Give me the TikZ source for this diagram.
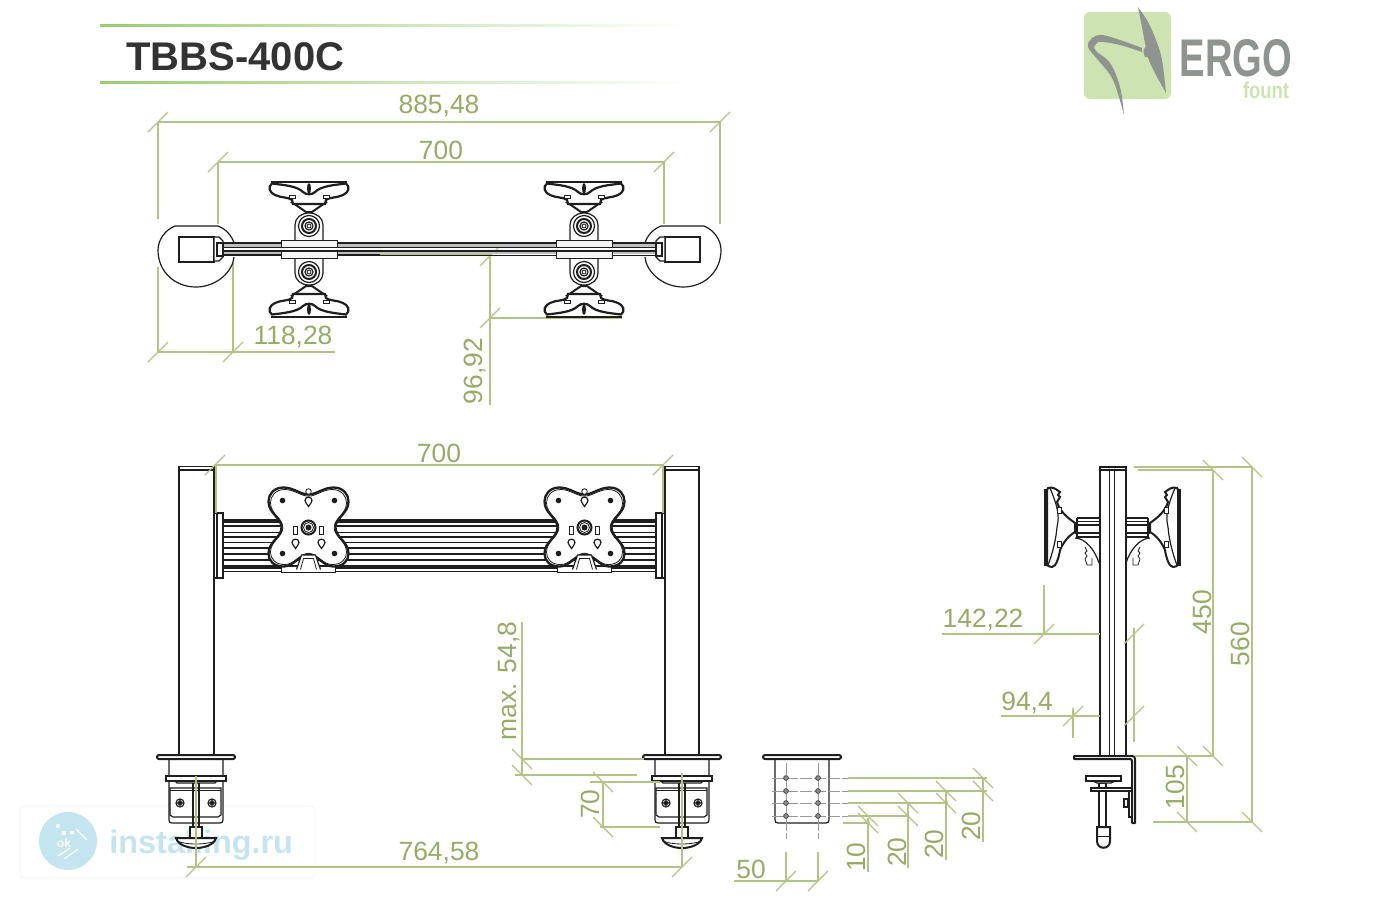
\documentclass[tikz,border=0pt]{standalone}
\usepackage{fontspec}
\setmainfont{Liberation Sans}
\usetikzlibrary{calc}
\definecolor{dimc}{HTML}{B3C386}
\definecolor{dimt}{HTML}{96AC66}
\definecolor{ink}{HTML}{1E1E1E}
\definecolor{logog}{HTML}{CDE4B2}
\definecolor{logod}{HTML}{8F9490}
\definecolor{wm}{HTML}{C4E4F0}
\tikzset{
 dim/.style={draw=dimc,line width=.6pt},
 dimlab/.style={text=dimt,font=\fontsize{13.2}{14}\selectfont,inner sep=0pt},
 lin/.style={draw=ink,line width=.6pt},
 thin lin/.style={draw=ink,line width=.4pt},
 hvy/.style={draw=ink,line width=1pt},
 tickf/.pic={\draw[dim] (-10,10)--(10,-10);},
 tickb/.pic={\draw[dim] (-10,-10)--(10,10);},
 planmount/.pic={
  \draw[lin,fill=white] (-14,-9)--(-14,-24) .. controls (-14,-31) and (-8,-36) .. (0,-36) .. controls (8,-36) and (14,-31) .. (14,-24)--(14,-9);
  \draw[hvy,fill=white] (-16,-46)--(-3,-37)--(3,-37)--(16,-46)--cycle;
  \draw[draw=ink,line width=1.1pt,fill=white] (-37,-65.5) .. controls (-25,-64) and (-12,-63) .. (-6,-57) .. controls (-3,-54) and (3,-54) .. (6,-57) .. controls (12,-63) and (25,-64) .. (37,-65.5) .. controls (42,-62) and (39,-56) .. (34,-54) .. controls (28,-51) and (20,-52) .. (17,-49) -- (16,-45) -- (-16,-45) -- (-17,-49) .. controls (-20,-52) and (-28,-51) .. (-34,-54) .. controls (-39,-56) and (-42,-62) .. (-37,-65.5) -- cycle;
  \draw[draw=ink,line width=1pt] (-38,-67.5)--(38,-67.5);
  \fill[ink] (0,-60.5) ellipse (2 and 5.5);
  \draw[thin lin,fill=white] (-20,-54) rectangle (-14,-51);
  \draw[thin lin,fill=white] (14,-54) rectangle (20,-51);
  \draw[lin,fill=white] (0,-23) circle (10.5);
  \draw[hvy] (0,-23) circle (7);
  \draw[lin] (0,-23) circle (4);
  \draw[thin lin] (0,-23) circle (2);
 },
 plate/.pic={
  \draw[thin lin,fill=white] (-27,39)--(-27,44.5)--(27,44.5)--(27,39);
  \draw[draw=ink,line width=1.15pt,fill=white] (0,-33) .. controls (-8,-33) and (-15,-40) .. (-25,-40) .. controls (-35,-40) and (-40,-33) .. (-40,-26) .. controls (-40,-14) and (-27,-10) .. (-27,0) .. controls (-27,10) and (-40,14) .. (-40,26) .. controls (-40,33) and (-35,39) .. (-25,39) .. controls (-15,39) and (-10,28) .. (0,27) .. controls (10,28) and (15,39) .. (25,39) .. controls (35,39) and (40,33) .. (40,26) .. controls (40,14) and (27,10) .. (27,0) .. controls (27,-10) and (40,-14) .. (40,-26) .. controls (40,-33) and (35,-40) .. (25,-40) .. controls (15,-40) and (8,-33) .. (0,-33) -- cycle;
  \draw[thin lin,scale=.95] (0,-33) .. controls (-8,-33) and (-15,-40) .. (-25,-40) .. controls (-35,-40) and (-40,-33) .. (-40,-26) .. controls (-40,-14) and (-27,-10) .. (-27,0) .. controls (-27,10) and (-40,14) .. (-40,26) .. controls (-40,33) and (-35,39) .. (-25,39) .. controls (-15,39) and (-10,28) .. (0,27) .. controls (10,28) and (15,39) .. (25,39) .. controls (35,39) and (40,33) .. (40,26) .. controls (40,14) and (27,10) .. (27,0) .. controls (27,-10) and (40,-14) .. (40,-26) .. controls (40,-33) and (35,-40) .. (25,-40) .. controls (15,-40) and (8,-33) .. (0,-33) -- cycle;
  \draw[lin,fill=white] (-12,42)--(-7,27.5)--(7,27.5)--(12,42);
  \draw[thin lin] (-8,42)--(-5,31)--(5,31)--(8,42);
  \foreach \a/\b in {-26/-27,26/-27,-26/26,26/26}{\fill[ink] (\a,\b) circle (2.8);}
  \draw[thin lin,fill=white] (0,-36) circle (2.8);
  \foreach \a/\b in {0/-27,-13/15,13/15}{
   \draw[lin,fill=white] (\a-3.5,\b) .. controls (\a-3.5,\b-4.5) and (\a+3.5,\b-4.5) .. (\a+3.5,\b) .. controls (\a+3.5,\b+2) and (\a+1.5,\b+3) .. (\a,\b+6) .. controls (\a-1.5,\b+3) and (\a-3.5,\b+2) .. (\a-3.5,\b) -- cycle;}
  \draw[lin,fill=white] (-15,-1) rectangle (-11,7);
  \draw[lin,fill=white] (11,-1) rectangle (15,7);
  \draw[hvy,fill=white] (0,0) circle (7);
  \draw[thin lin] (0,0) circle (5);
  \fill[ink] (0,0) circle (3);
 },
 clampfront/.pic={
  \draw[lin,fill=white] (-27,759)--(-27,820) .. controls (-27,822) and (-26,823) .. (-24,823)--(24,823) .. controls (26,823) and (27,822) .. (27,820)--(27,759);
  \draw[lin] (-26,788)--(25,788)--(25,815)--(22,817)--(-23,817)--(-26,815)--cycle;
  \draw[thin lin] (-26,790)--(25,790);
  \draw[lin,fill=white] (-30,776) rectangle (30,781);
  \draw[lin] (-21,781)--(-19,783)--(19,783)--(21,781);
  \draw[lin] (-3,783)--(-3,827);
  \draw[lin] (3,783)--(3,827);
  \foreach \a in {-16,16}{\draw[lin] (\a,803) circle (4);\draw[hvy] (\a,803) circle (1.8);}
  \draw[hvy,fill=white] (-6,838)--(-6,827)--(6,827)--(6,838);
  \draw[hvy,fill=white] (-20,838)--(20,838) .. controls (18,845) and (8,848) .. (0,848) .. controls (-8,848) and (-18,845) .. (-20,838)--cycle;
  \draw[thin lin] (-19,841) .. controls (-10,845) and (10,845) .. (19,841);
 },
 topplate/.pic={\draw[hvy,fill=white,rounded corners=1pt] (-39,755) rectangle (39,759);},
 planclamp/.pic={
  \draw[lin] (218,226)--(175,226) .. controls (165,230) and (158,240) .. (158,250) .. controls (158,272) and (175,287) .. (196,287) .. controls (217,287) and (233,271) .. (234,257);
  \draw[lin] (218,226) .. controls (226,229) and (232,236) .. (234,243);
  \draw[lin,fill=white] (179,237) rectangle (214,262);
  \draw[lin,fill=white] (214,237)--(219,237)--(223,241)--(223,257)--(219,261)--(214,261)--cycle;
  \draw[hvy,fill=white] (217,243) rectangle (223,256);
 },
 sidehead/.pic={
  \draw[draw=ink,line width=1.1pt] (1045.5,489)--(1045.5,566);
  \draw[hvy,fill=white] (1048,488) .. controls (1053,486) and (1057,490) .. (1060,492) -- (1058,495) -- (1060,497) -- (1057,502) .. controls (1060,512) and (1068,518) .. (1075,523) -- (1075,532) .. controls (1068,536) and (1063,543) .. (1060,550) .. controls (1059,557) and (1056,567) .. (1052,567) .. controls (1050,567) and (1048,566) .. (1047,565) -- (1047,490) -- cycle;
  \draw[lin] (1050,488) .. controls (1057,505) and (1060,515) .. (1057,527) .. controls (1056,540) and (1052,555) .. (1048,565);
  \draw[thin lin,fill=white] (1057,507) rectangle (1061,513);
  \draw[thin lin,fill=white] (1057,541) rectangle (1061,547);
  \draw[lin] (1077,518)--(1077,537)--(1099,537);
  \draw[lin] (1077,518)--(1099,518);
  \draw[thin lin] (1077,521)--(1099,521);
  \draw[lin] (1077,525)--(1099,525);
  \draw[lin] (1075,533)--(1099,533);
  \draw[lin] (1075,538) .. controls (1085,538) and (1095,550) .. (1099,563);
  \draw[thin lin] (1085,547)--(1087,551)--(1085,553)--(1087,556)--(1085,559)--(1087,565)--(1092,565)--(1092,558);
 },
}
\begin{document}
\begin{tikzpicture}[x=.5pt,y=-.5pt]
\useasboundingbox (0,0) rectangle (1400,900);
\fill[white] (0,0) rectangle (1400,900);
% watermark
\draw[draw=black!5,line width=.4pt,rounded corners=2pt] (20,806) rectangle (315,878);
\fill[wm] (68,841) circle (29);
\begin{scope}[white]
 \fill (58,826) circle (2);\fill (62,831) rectangle (66,835);\fill (70,831) rectangle (74,834);
 \draw[line width=.6pt] (76,829) .. controls (80,833) and (84,837) .. (87,840);
 \draw[line width=.6pt] (58,856)--(70,848);
 \draw[line width=.6pt] (64,859)--(78,849);
 \node[font=\fontsize{6}{6}\selectfont\bfseries,text=white,inner sep=0pt] (wmok) at (64,843) {ok};
\end{scope}
\node[anchor=west,text=wm,font=\fontsize{16.2}{17}\selectfont\bfseries,inner sep=0pt] (wmtext) at (109,845) {installing.ru};
% header
\shade[left color=dimc!85!green,right color=white] (100,24.5) rectangle (690,26.5);
\shade[left color=dimc!85!green,right color=white] (100,81.5) rectangle (690,83.5);
\node[anchor=west,text=black!80,font=\fontsize{20}{21}\selectfont\bfseries,inner sep=0pt] (title) at (126,57) {TBBS-400C};
% logo
\fill[logog,rounded corners=3pt] (1084,12) rectangle (1171,99);
\fill[logod] plot[smooth,tension=.6] coordinates {(1138,7) (1142,27) (1145,43) (1150,63) (1166,93)} -- plot[smooth,tension=.6] coordinates {(1166,93) (1162,60) (1156,40) (1148,22) (1138,7)} -- cycle;
\fill[logod] plot[smooth,tension=.6] coordinates {(1124,115) (1113,80) (1098,60) (1088,47) (1092,38) (1102,35) (1120,40) (1142,48)} -- plot[smooth,tension=.6] coordinates {(1142,52) (1120,45) (1103,42) (1097,43) (1095,50) (1110,63) (1120,87) (1124,115)} -- cycle;
\fill[logod] (1149,45) .. controls (1143,47) and (1142,52) .. (1145,57) -- (1150,57) -- cycle;
\node[text=logod,font=\fontsize{26.5}{27}\selectfont\bfseries,inner sep=0pt] (ergo) at (1236,58) {\scalebox{.72}[1]{ERGO}};
\node[text=logog,font=\fontsize{11.5}{12}\selectfont\bfseries,inner sep=0pt] (fount) at (1266,90) {\scalebox{.8}[1]{fount}};

% ---- plan view
\draw[dim] (158,122)--(158,219) (158,267)--(158,352) (720,122)--(720,224) (218,162)--(218,224) (664,162)--(664,224) (233,263)--(233,352);
\draw[dim] (490,252)--(490,405) (490,318)--(622,318);
\draw[dim] (380,255)--(490,255);
\draw[dim] (158,122)--(720,122) (218,162)--(664,162) (158,352)--(335,352);
\foreach \p in {(158,122),(720,122),(218,162),(664,162),(158,352),(233,352),(490,318),(490,256)}{\path \p pic {tickf};}
\node[dimlab] (d885) at (439,106) {885,48};
\node[dimlab] (d700a) at (441,150) {700};
\node[dimlab] (d118) at (293,337) {118,28};
\node[dimlab,rotate=90] (d96) at (475,371) {96,92};
% bar
\fill[black!25] (223,244) rectangle (656,247);
\fill[black!25] (223,252) rectangle (656,254);
\draw[hvy] (223,243)--(656,243);
\draw[thin lin] (223,247.5)--(656,247.5);
\draw[hvy] (223,251)--(656,251);
\draw[hvy] (223,255)--(380,255);
\draw[thin lin] (380,255)--(656,255);
\foreach \c in {309,584}{
 \begin{scope}[shift={(\c,249)}]
  \path (0,0) pic[transform shape] {planmount};
  \begin{scope}[yscale=-1]\path (0,0) pic[transform shape] {planmount};\end{scope}
 \end{scope}
 \begin{scope}[shift={(\c,0)}]
  \draw[thin lin,fill=black!4] (-28,240) rectangle (28,247);
  \draw[thin lin,fill=black!4] (-28,251) rectangle (28,258);
 \end{scope}
}
\path (0,0) pic[transform shape] {planclamp};
\begin{scope}[xscale=-1,shift={(-879,0)}]\path (0,0) pic[transform shape] {planclamp};\end{scope}

% ---- front view
\foreach \yy in {525.5,566}{\draw[draw=ink,line width=1pt] (223,\yy)--(657,\yy);}
\foreach \yy in {520,522,532.5,537,542.5,548,554,560,568,571.7}{\draw[draw=ink,line width=.55pt] (223,\yy)--(657,\yy);}
\foreach \x/\a in {179/214,665/699}{
 \draw[lin,fill=white] (\x,755)--(\x,466.5)--(\a,466.5)--(\a,755);
 \draw[lin] (\x,470)--(\a,470);
}
\draw[lin,fill=white] (214,513) rectangle (223,578);
\draw[lin] (217,513)--(217,578);
\draw[lin,fill=white] (656,513) rectangle (665,578);
\draw[lin] (662,513)--(662,578);
\path (308.5,527.5) pic {plate};
\path (584.5,527.5) pic {plate};
\draw[dim] (216,465)--(216,513) (663,465)--(663,513) (214,465)--(664,465);
\path (215,465) pic {tickf};
\path (663,465) pic {tickf};
\node[dimlab] (d700b) at (439,453) {700};
% clamps
\path (196,0) pic {clampfront};
\path (196,0) pic {topplate};
\path (682,0) pic {clampfront};
\path (682,0) pic {topplate};
\draw[dim] (196,776)--(196,867) (682,773)--(682,867) (187,867)--(682,867);
\path (196,867) pic {tickf};
\path (682,867) pic {tickf};
\node[dimlab] (d764) at (439,853) {764,58};
\draw[dim] (522,622)--(522,775) (522,759)--(644,759) (515,775)--(637,775);
\path (522,759) pic {tickb};
\path (522,775) pic {tickb};
\node[dimlab,rotate=90] (dmax) at (509,681) {max. 54,8};
\draw[dim] (590,782)--(660,782) (600,827)--(660,827) (603,782)--(603,827);
\path (603,782) pic {tickb};
\path (603,827) pic {tickb};
\node[dimlab,rotate=90] (d70) at (590,804) {70};

% ---- hole bracket
\draw[lin,fill=white] (775,759)--(775,820) .. controls (775,822) and (776,823) .. (778,823)--(826,823) .. controls (828,823) and (829,822) .. (829,820)--(829,759);
\path (802,0) pic {topplate};
\draw[draw=black!40,line width=.5pt,dash pattern=on 6pt off 1pt] (786,763)--(786,839) (818,763)--(818,839);
\foreach \yy in {778,791,803,816}{
 \draw[draw=black!40,line width=.5pt,dash pattern=on 6pt off 1pt] (772,\yy)--(848,\yy);
 \foreach \x in {786,818}{\draw[draw=black!70,line width=.4pt,fill=black!45] (\x,\yy) circle (2.4);}
}
\draw[dim] (848,778)--(987,778) (848,791)--(987,791) (848,803)--(948,803) (848,816)--(908,816) (843,823)--(870,823);
\draw[dim] (868,818)--(868,872) (908,803)--(908,868) (946,791)--(946,860) (983,778)--(983,842);
\path (868,816) pic {tickb};
\path (868,823) pic {tickb};
\path (908,803) pic {tickb};
\path (908,816) pic {tickb};
\path (946,791) pic {tickb};
\path (946,803) pic {tickb};
\path (983,778) pic {tickb};
\path (983,791) pic {tickb};
\node[dimlab,rotate=90] (d10) at (856,857) {10};
\node[dimlab,rotate=90] (d20a) at (897,852) {20};
\node[dimlab,rotate=90] (d20b) at (934,844) {20};
\node[dimlab,rotate=90] (d20c) at (971,826) {20};
\draw[dim] (786,852)--(786,881) (818,852)--(818,881) (734,881)--(818,881);
\path (786,881) pic {tickf};
\path (818,881) pic {tickf};
\node[dimlab] (d50) at (751,869) {50};

% ---- side view
\path (0,0) pic[transform shape] {sidehead};
\begin{scope}[xscale=-1,shift={(-2225,0)}]\path (0,0) pic[transform shape] {sidehead};\end{scope}
\draw[lin,fill=white] (1100,756)--(1100,467)--(1126,467)--(1126,756);
\draw[lin] (1100,470)--(1126,470);
\draw[thin lin] (1109,470)--(1109,756) (1114,470)--(1114,756);
\draw[hvy,fill=white,line join=round] (1074,759)--(1074,756)--(1132,756) .. controls (1134,756) and (1135,757) .. (1135,759)--(1135,823)--(1132,823)--(1132,761) .. controls (1132,760) and (1131,759) .. (1130,759)--cycle;
\draw[lin,fill=white] (1099,783) rectangle (1106,827);
\draw[lin,fill=white] (1091,788)--(1132,788)--(1132,791)--(1091,791)--cycle;
\draw[lin] (1129,791)--(1129,817)--(1132,817);
\draw[lin,fill=white] (1124,799) rectangle (1128,807);
\draw[lin,fill=white] (1093,781)--(1097,783)--(1111,783)--(1115,781);
\draw[hvy,fill=white] (1086,776) rectangle (1121,781);
\draw[hvy,fill=white] (1097,827)--(1110,827)--(1110,841) .. controls (1110,850) and (1097,850) .. (1097,841)--cycle;
\draw[thin lin] (1097,836)--(1110,836);
% side dims
\draw[dim] (1134,467)--(1252,467) (1138,470)--(1213,470) (1213,470)--(1213,756) (1252,467)--(1252,822);
\draw[dim] (1135,756)--(1213,756) (1153,822)--(1252,822) (1187,756)--(1187,822);
\foreach \p in {(1213,470),(1252,467),(1213,756),(1252,822),(1187,756),(1187,822)}{\path \p pic {tickb};}
\node[dimlab,rotate=90] (d450) at (1202,612) {450};
\node[dimlab,rotate=90] (d560) at (1240,644) {560};
\node[dimlab,rotate=90] (d105) at (1175,787) {105};
\draw[dim] (942,634)--(1100,634) (1044,585)--(1044,634) (1134,628)--(1134,742);
\path (1044,634) pic {tickf};
\path (1134,634) pic {tickf};
\node[dimlab] (d142) at (983,620) {142,22};
\draw[dim] (1001,716)--(1100,716) (1073,708)--(1073,738);
\path (1073,716) pic {tickf};
\path (1134,716) pic {tickf};
\node[dimlab] (d94) at (1027,703) {94,4};
\end{tikzpicture}
\end{document}
